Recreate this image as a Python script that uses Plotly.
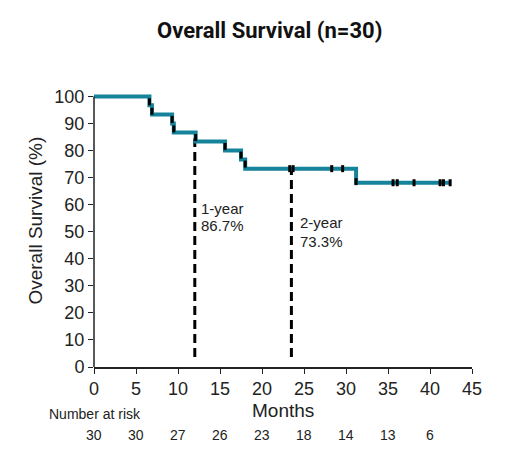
import plotly.graph_objects as go

# Kaplan-Meier step data (months, survival %)
times = [0, 6.6, 6.9, 9.3, 9.5, 12.1, 15.6, 17.5, 18.0, 31.2, 42.4]
surv = [100, 96.7, 93.3, 90.0, 86.7, 83.3, 80.0, 76.7, 73.3, 68.1, 68.1]

# censor marks
cens_t = [6.6, 6.9, 9.3, 9.5, 12.1, 15.6, 17.5, 18.0, 23.3, 23.7, 28.3, 29.6, 31.2, 35.6, 36.1, 38.1, 41.2, 41.6, 42.4]
cens_s = [98.0, 94.5, 91.5, 88.0, 84.8, 81.5, 78.3, 75.0, 73.3, 73.3, 73.3, 73.3, 68.5, 68.1, 68.1, 68.1, 68.1, 68.1, 68.1]

# landmarks
land_t = [12.0, 23.5]
land_top = [84.5, 72.7]
land_year = ["1-year", "2-year"]
land_pct = ["86.7%", "73.3%"]
land_lbl_x = [12.5, 24.3]
land_year_y = [58.7, 53.5]
land_pct_y = [52.4, 46.5]

# number at risk
risk_t = [0, 5, 10, 15, 20, 25, 30, 35, 40]
risk_n = [30, 30, 27, 26, 23, 18, 14, 13, 6]

xticks = [0, 5, 10, 15, 20, 25, 30, 35, 40, 45]
yticks = list(range(0, 101, 10))

fig = go.Figure()

for t, s in zip(land_t, land_top):
    fig.add_trace(go.Scatter(x=[t, t], y=[3.7, s], mode="lines",
                             line=dict(color="black", width=3, dash="9px,5px"),
                             showlegend=False, hoverinfo="skip"))

fig.add_trace(go.Scatter(x=times, y=surv, mode="lines", line_shape="hv",
                         line=dict(color="#15849a", width=4), showlegend=False))

fig.add_trace(go.Scatter(x=cens_t, y=cens_s, mode="markers",
                         marker=dict(symbol="line-ns", size=5,
                                     line=dict(color="black", width=3)),
                         showlegend=False, cliponaxis=False))

font_main = "Liberation Sans, Arial, sans-serif"
txt = "#222"

annotations = []
for lx, yr, pc, yy, py in zip(land_lbl_x, land_year, land_pct, land_year_y, land_pct_y):
    annotations.append(dict(x=lx, y=yy, xref="x", yref="y", text=yr,
                            showarrow=False, xanchor="left", yanchor="middle",
                            font=dict(size=15, color=txt, family=font_main)))
    annotations.append(dict(x=lx, y=py, xref="x", yref="y", text=pc,
                            showarrow=False, xanchor="left", yanchor="middle",
                            font=dict(size=15, color=txt, family=font_main)))

# title
annotations.append(dict(x=0.463, y=1.219, xref="paper", yref="paper",
                        text="<b>Overall Survival (n=30)</b>", showarrow=False,
                        xanchor="center", yanchor="middle",
                        font=dict(family="Roboto, sans-serif", size=22, color="#111")))
# axis titles
annotations.append(dict(x=-0.155, y=0.532, xref="paper", yref="paper",
                        text="Overall Survival (%)", textangle=-90, showarrow=False,
                        xanchor="center", yanchor="middle",
                        font=dict(size=19, color=txt, family=font_main)))
annotations.append(dict(x=0.5, y=-0.159, xref="paper", yref="paper",
                        text="Months", showarrow=False,
                        xanchor="center", yanchor="middle",
                        font=dict(size=19, color=txt, family=font_main)))
# number at risk
annotations.append(dict(x=-0.1255, y=-0.170, xref="paper", yref="paper", text="Number at risk",
                        showarrow=False, xanchor="left", yanchor="middle",
                        font=dict(size=14, color=txt, family=font_main)))
for t, n in zip(risk_t, risk_n):
    annotations.append(dict(x=t / 45.0, y=-0.246, xref="paper", yref="paper", text=str(n),
                            showarrow=False, xanchor="center", yanchor="middle",
                            font=dict(size=14, color=txt, family=font_main)))

fig.update_layout(
    width=516, height=464,
    margin=dict(l=85.5, r=52, t=82.6, b=105),
    plot_bgcolor="white", paper_bgcolor="white",
    annotations=annotations,
    shapes=[dict(type="line", xref="paper", yref="y", x0=0, x1=0, y0=0, y1=100,
                 line=dict(color=txt, width=1.5))],
    font=dict(family=font_main, color=txt),
)

fig.update_xaxes(range=[0, 45], tickvals=xticks, ticks="outside", ticklen=5,
                 tickwidth=1.2, tickcolor=txt, showline=True, linecolor=txt,
                 linewidth=1.5, showgrid=False, zeroline=False, automargin=False,
                 tickfont=dict(size=18, family=font_main, color=txt))
fig.update_yaxes(range=[0, 102], tickvals=yticks, ticks="outside", ticklen=5,
                 tickwidth=1.2, tickcolor=txt, showline=False, showgrid=False,
                 zeroline=False, automargin=False,
                 tickfont=dict(size=18, family=font_main, color=txt))

fig.write_html("out.html")
